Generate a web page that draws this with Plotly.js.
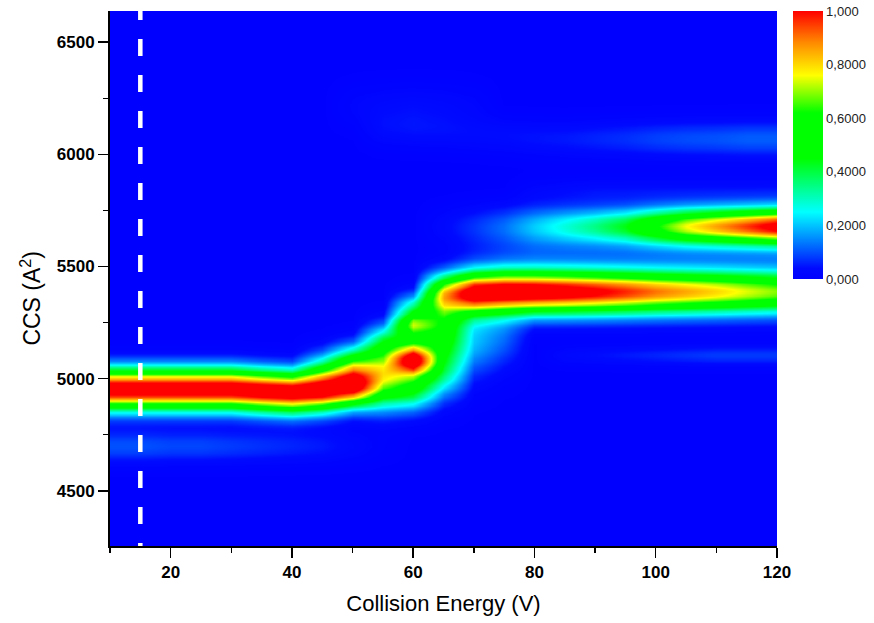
<!DOCTYPE html>
<html>
<head>
<meta charset="utf-8">
<script src="https://cdn.plot.ly/plotly-3.0.1.min.js"></script>
<style>html,body{margin:0;padding:0;background:#fff;}#chart{width:874px;height:623px;}</style>
</head>
<body>
<div id="chart"></div>
<script>
// Collision energies (V) – one column of the map each
const energies = [10,15,20,25,30,35,40,45,50,55,60,65,70,75,80,85,90,95,100,105,110,115,120];

// Arrival-distribution peaks, per energy column (CCS in A^2, relative intensity)
// compact conformer (~4955)
const compactCenter = [4955,4955,4955,4955,4955,4947,4941,4950,4970,4975,4970,5025,5025,5025,5025,5025,5025,5025,5025,5025,5025,5025,5025];
const compactAmp    = [1.1,1.1,1.1,1.1,1.1,1.1,1.1,1.1,1.12,0.6,0.5,0.27,0,0,0,0,0,0,0,0,0,0,0];
const compactWidth  = [62,62,62,62,62,62,62,62,62,75,70,80,62,62,62,62,62,62,62,62,62,62,62];
// intermediate (~5080)
const interCenter = [5080,5080,5080,5080,5080,5080,5080,5055,5080,5055,5083,5083,5083,5083,5083,5083,5083,5083,5083,5083,5083,5083,5083];
const interAmp    = [0,0,0,0,0,0,0,0.2,0.4,0.32,0.78,0,0,0,0,0,0,0,0,0,0,0,0];
const interWidth  = [55,55,55,55,55,55,55,55,55,55,45,40,40,40,40,40,40,40,40,40,40,40,40];
// broad unfolding plateau (~5150-5230)
const plateauCenter = [5160,5160,5160,5160,5160,5160,5160,5160,5160,5155,5170,5220,5175,5195,5195,5195,5195,5195,5195,5195,5195,5195,5195];
const plateauAmp    = [0,0,0,0,0,0,0,0,0,0.4,0.42,0.55,0.2,0.12,0,0,0,0,0,0,0,0,0];
const plateauWidth  = [60,60,60,60,60,60,60,60,60,60,90,110,110,100,100,100,100,100,100,100,100,100,100];
// shoulder (~5240)
const shoulderCenter = 5242;
const shoulderAmp    = [0,0,0,0,0,0,0,0,0,0,0.36,0,0,0,0,0,0,0,0,0,0,0,0];
const shoulderWidth  = 32;
// extended conformer (~5388)
const extendedCenter = [5388,5388,5388,5388,5388,5388,5388,5388,5388,5388,5315,5380,5383,5388,5388,5388,5388,5388,5388,5388,5388,5388,5388];
const extendedAmp    = [0,0,0,0,0,0,0,0,0,0,0.25,0.65,1.1,1.12,1.12,1.08,1.03,0.97,0.9,0.85,0.8,0.74,0.69];
const extendedWidth  = [65,65,65,65,65,65,65,65,65,65,45,60,65,65,65,65,65,65,65,65,65,65,65];
// most extended conformer (~5680)
const upperCenter = 5680;
const upperAmp    = [0,0,0,0,0,0,0,0,0,0,0,0.03,0.07,0.12,0.2,0.27,0.34,0.43,0.6,0.75,0.85,0.95,1.05];
const upperWidth  = [55,55,55,55,55,55,55,55,55,55,55,60,60,60,60,58,56,55,55,55,55,55,55];
// faint features
const faint5555Amp = [0,0,0,0,0,0,0,0,0,0,0,0,0.03,0.05,0.06,0.06,0.06,0.06,0.06,0.06,0.06,0.06,0.06];
const faint5835Amp = [0,0,0,0,0,0,0,0,0,0,0,0,0,0,0.02,0.03,0.04,0.04,0.04,0.04,0.04,0.04,0.04];
const faint6070Center = [6110,6110,6110,6110,6110,6110,6110,6110,6110,6110,6105,6100,6090,6085,6075,6070,6070,6070,6070,6070,6070,6070,6070];
const faint6070Amp    = [0,0,0,0,0,0,0,0,0,0.03,0.035,0.035,0.035,0.04,0.045,0.05,0.06,0.07,0.085,0.095,0.1,0.11,0.11];
const faint6215Amp = [0,0,0,0,0,0,0,0,0.02,0.03,0.035,0.03,0.02,0,0,0,0,0,0,0,0,0,0];
const faint5105Amp = [0,0,0,0,0,0,0,0,0,0,0,0,0,0,0,0.03,0.04,0.05,0.06,0.07,0.08,0.08,0.08];
const faint4700Amp = [0.1,0.1,0.09,0.09,0.08,0.07,0.06,0.05,0.03,0.01,0,0,0,0,0,0,0,0,0,0,0,0,0];

// dashed reference energy
const markerEnergy = 15;

// colorbar labels
const cbVals = [0,0.2,0.4,0.6,0.8,1];
const cbText = ['0,000','0,2000','0,4000','0,6000','0,8000','1,000'];

const yMin = 4254, yMax = 6639;

const bands = [
  {c: compactCenter, a: compactAmp, w: compactWidth},
  {c: interCenter, a: interAmp, w: interWidth},
  {c: plateauCenter, a: plateauAmp, w: plateauWidth},
  {c: shoulderCenter, a: shoulderAmp, w: shoulderWidth},
  {c: extendedCenter, a: extendedAmp, w: extendedWidth},
  {c: upperCenter, a: upperAmp, w: upperWidth},
  {c: 5555, a: faint5555Amp, w: 60},
  {c: 5835, a: faint5835Amp, w: 40},
  {c: faint6070Center, a: faint6070Amp, w: 55},
  {c: 6215, a: faint6215Amp, w: 70},
  {c: 5105, a: faint5105Amp, w: 30},
  {c: 4700, a: faint4700Amp, w: 50}
];
const val = (v, j) => Array.isArray(v) ? v[j] : v;

const ccsGrid = [];
for (let y = 4200; y <= 6700; y += 10) ccsGrid.push(y);

const z = ccsGrid.map(y => energies.map((e, j) => {
  let s = 0;
  bands.forEach(b => {
    const a = val(b.a, j); if (!a) return;
    const c = val(b.c, j), w = val(b.w, j);
    s += a * Math.exp(-((y - c) * (y - c)) / (2 * w * w));
  });
  return s;
}));

const colorscale = [
  [0, 'rgb(0,0,255)'],
  [0.04, 'rgb(0,10,255)'],
  [0.25, 'rgb(0,255,255)'],
  [0.45, 'rgb(0,255,0)'],
  [0.62, 'rgb(0,255,0)'],
  [0.76, 'rgb(255,255,0)'],
  [0.88, 'rgb(255,140,0)'],
  [1, 'rgb(255,0,0)']
];

const heat = {
  type: 'heatmap', x: energies, y: ccsGrid, z: z,
  zmin: 0, zmax: 1, zsmooth: 'best', colorscale: colorscale,
  hoverinfo: 'skip',
  colorbar: {
    x: 1.024, xanchor: 'left', xpad: 0, y: 1.0, yanchor: 'top', ypad: 0,
    len: 0.5, lenmode: 'fraction', thickness: 30, outlinewidth: 0,
    tickmode: 'array', tickvals: cbVals, ticktext: cbText, ticks: '',
    tickfont: {family: 'Liberation Sans, Arial, sans-serif', size: 13, color: '#222'}
  }
};

// the dashed line spans the whole CCS axis; its start sits a little above the top so the dash phase matches
const dashLine = {
  type: 'scatter', mode: 'lines', x: [markerEnergy, markerEnergy], y: [yMax + 36, yMin],
  line: {color: 'white', width: 4.5, dash: '17px,19px'}, hoverinfo: 'skip', showlegend: false
};

const tickFont = {family: 'Liberation Sans, Arial, sans-serif', size: 17, color: '#000', weight: 'bold'};
const titleFont = {family: 'Liberation Sans, Arial, sans-serif', size: 22, color: '#000'};

const layout = {
  width: 874, height: 623,
  margin: {l: 110, r: 94, t: 11, b: 77},
  paper_bgcolor: '#fff', plot_bgcolor: '#fff',
  showlegend: false,
  xaxis: {
    range: [10, 120], tickmode: 'linear', tick0: 0, dtick: 20,
    ticks: 'outside', ticklen: 10, tickwidth: 1.5, tickcolor: '#000',
    minor: {dtick: 10, tick0: 0, ticks: 'outside', ticklen: 5, tickwidth: 1.5, tickcolor: '#000'},
    showline: true, linecolor: '#000', linewidth: 2, mirror: false,
    showgrid: false, zeroline: false, tickfont: tickFont,
    title: {text: 'Collision Energy (V)', font: titleFont, standoff: 14}
  },
  yaxis: {
    range: [yMin, yMax], tickmode: 'linear', tick0: 0, dtick: 500,
    ticks: 'outside', ticklen: 10, tickwidth: 1.5, tickcolor: '#000',
    minor: {dtick: 250, tick0: 0, ticks: 'outside', ticklen: 5, tickwidth: 1.5, tickcolor: '#000'},
    showline: true, linecolor: '#000', linewidth: 2, mirror: false,
    showgrid: false, zeroline: false, tickfont: tickFont
  },
  annotations: [{
    text: 'CCS (A<sup>2</sup>)', font: {family: 'Liberation Sans, Arial, sans-serif', size: 23, color: '#000'},
    textangle: -90, xref: 'paper', yref: 'paper', x: -0.119, y: 0.4636,
    xanchor: 'center', yanchor: 'middle', showarrow: false
  }]
};

Plotly.newPlot('chart', [heat, dashLine], layout, {displayModeBar: false, staticPlot: true});
</script>
</body>
</html>
